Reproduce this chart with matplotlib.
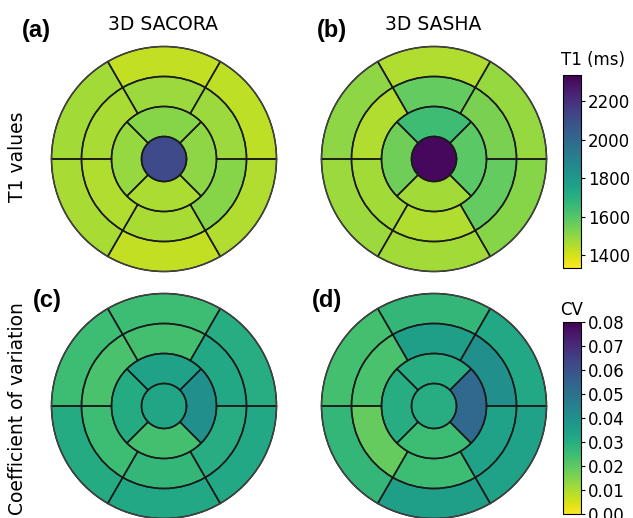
import numpy as np
import matplotlib
matplotlib.use("Agg")
import matplotlib.pyplot as plt
import matplotlib as mpl

# segment order: outer ring (6), mid ring (6), inner ring (4), apex (1)
# outer/mid rings start at top and go counter-clockwise, inner ring too
t1_sacora = [1425, 1475, 1465, 1425, 1455, 1435,
             1485, 1465, 1455, 1465, 1515, 1485,
             1515, 1495, 1460, 1505,
             2110]
t1_sasha = [1455, 1505, 1485, 1475, 1515, 1495,
            1575, 1455, 1475, 1455, 1575, 1535,
            1645, 1555, 1475, 1590,
            2315]
cv_sacora = [0.025, 0.025, 0.031, 0.032, 0.032, 0.030,
             0.024, 0.023, 0.025, 0.027, 0.030, 0.032,
             0.034, 0.031, 0.024, 0.040,
             0.033]
cv_sasha = [0.027, 0.024, 0.027, 0.035, 0.034, 0.032,
            0.035, 0.023, 0.019, 0.025, 0.034, 0.040,
            0.030, 0.030, 0.025, 0.053,
            0.030]

t1_range = (1335, 2335)
t1_ticks = [1400, 1600, 1800, 2000, 2200]
cv_range = (0.0, 0.08)
cv_ticks = [0.00, 0.01, 0.02, 0.03, 0.04, 0.05, 0.06, 0.07, 0.08]

cmap = plt.get_cmap("viridis_r")


def bullseye(ax, data, norm):
    data = np.ravel(data)
    r = np.linspace(0.2, 1, 4)
    ax.set(ylim=[0, 1], xticklabels=[], yticklabels=[])
    ax.set_xticks([])
    ax.set_yticks([])
    ax.grid(False)
    for start, stop, r_in, r_out in [(0, 6, r[2], r[3]),
                                     (6, 12, r[1], r[2]),
                                     (12, 16, r[0], r[1]),
                                     (16, 17, 0, r[0])]:
        n = stop - start
        dtheta = 2 * np.pi / n
        ax.bar(np.arange(n) * dtheta + np.pi / 2, r_out - r_in, dtheta, r_in,
               color=cmap(norm(data[start:stop])))
    for start, stop, r_in, r_out in [(0, 6, r[2], r[3]),
                                     (6, 12, r[1], r[2]),
                                     (12, 16, r[0], r[1])]:
        n = stop - start
        dtheta = 2 * np.pi / n
        ax.bar(np.arange(n) * dtheta + np.pi / 2, r_out - r_in, dtheta, r_in,
               clip_on=False, color="none", edgecolor="#1a1a1a", linewidth=1.1)
    ax.plot(np.linspace(0, 2 * np.pi, 200), np.full(200, r[0]), color="#1a1a1a", lw=1.1)
    ax.spines["polar"].set_color("#444444")
    ax.spines["polar"].set_linewidth(0.9)


fig = plt.figure(figsize=(6.33, 5.18), dpi=100)
W, H = 633, 518
rad = 112.5

norm_t1 = mpl.colors.Normalize(*t1_range)
norm_cv = mpl.colors.Normalize(*cv_range)

panels = [(164, 159, t1_sacora, norm_t1),
          (434, 159, t1_sasha, norm_t1),
          (164, 406, cv_sacora, norm_cv),
          (434, 406, cv_sasha, norm_cv)]

for cx, cy, vals, nrm in panels:
    ax = fig.add_axes([(cx - rad) / W, 1 - (cy + rad) / H, 2 * rad / W, 2 * rad / H],
                      projection="polar")
    bullseye(ax, vals, nrm)

# panel letters
for x, y, lab in [(22, 30, "(a)"), (317, 30, "(b)"), (33, 300, "(c)"), (312, 301, "(d)")]:
    fig.text(x / W, 1 - y / H, lab, fontsize=17, fontweight="bold",
             family="Liberation Sans", va="center", ha="left")

fig.text(163 / W, 1 - 25 / H, "3D SACORA", fontsize=13.5, ha="center", va="center")
fig.text(433 / W, 1 - 25 / H, "3D SASHA", fontsize=13.5, ha="center", va="center")
fig.text(18 / W, 1 - 157 / H, "T1 values", fontsize=13.5, rotation=90,
         ha="center", va="center")
fig.text(18 / W, 1 - 409 / H, "Coefficient of variation", fontsize=13.5, rotation=90,
         ha="center", va="center")

# colorbars
cax1 = fig.add_axes([563 / W, 1 - 268 / H, 18 / W, 193 / H])
cb1 = fig.colorbar(mpl.cm.ScalarMappable(norm=norm_t1, cmap=cmap), cax=cax1)
cb1.set_ticks(t1_ticks)
cb1.ax.tick_params(labelsize=12, length=3, pad=2)
cb1.outline.set_linewidth(0.8)
fig.text(593 / W, 1 - 60 / H, "T1 (ms)", fontsize=12, ha="center", va="center")

cax2 = fig.add_axes([563 / W, 1 - 514 / H, 18 / W, 192 / H])
cb2 = fig.colorbar(mpl.cm.ScalarMappable(norm=norm_cv, cmap=cmap), cax=cax2)
cb2.set_ticks(cv_ticks)
cb2.set_ticklabels(["%.2f" % t for t in cv_ticks])
cb2.ax.tick_params(labelsize=12, length=3, pad=2)
cb2.outline.set_linewidth(0.8)
fig.text(560 / W, 1 - 310 / H, "CV", fontsize=12, ha="left", va="center")

fig.savefig("out.png", dpi=100)
